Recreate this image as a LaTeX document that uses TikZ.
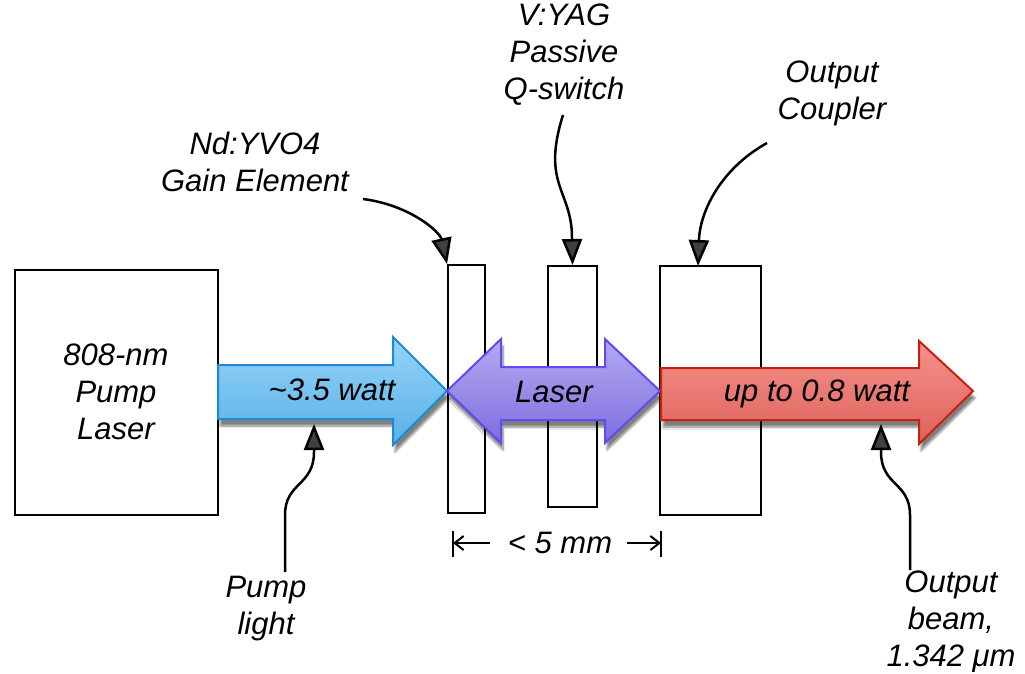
\documentclass[tikz,border=0pt]{standalone}
\usepackage{fontspec}
\setmainfont{Liberation Sans}
\usetikzlibrary{arrows.meta,shadows.blur}
\definecolor{bluetop}{RGB}{150,212,247}
\definecolor{bluebot}{RGB}{88,176,232}
\definecolor{blueline}{RGB}{26,139,212}
\definecolor{purtop}{RGB}{180,170,243}
\definecolor{purbot}{RGB}{126,110,220}
\definecolor{purline}{RGB}{92,76,245}
\definecolor{redtop}{RGB}{246,146,140}
\definecolor{redbot}{RGB}{220,98,90}
\definecolor{redline}{RGB}{200,32,15}
\begin{document}
\begin{tikzpicture}[x=1pt,y=-1pt,
  lab/.style={font=\fontsize{31}{37}\selectfont\itshape, inner sep=0pt, align=center},
  box/.style={draw, line width=2pt, fill=white, inner sep=0pt},
  call/.style={line width=2.5pt, -{Triangle[length=26pt,width=20pt]}},
  beam/.style={line width=2pt, line join=miter,
    blur shadow={shadow xshift=2pt, shadow yshift=-7pt, shadow blur steps=8, shadow opacity=50}},
  dimarr/.style={line width=2pt, -{Straight Barb[length=9pt,width=14pt]}},
]
\useasboundingbox (0,0) rectangle (1025,674);

% boxes
\node[box, minimum width=203pt, minimum height=245pt] (pump) at (116.5,392.5) {};
\node[lab] (pumptxt) at (116,392) {808-nm\\Pump\\Laser};
\node[box, minimum width=37pt, minimum height=248pt] (gain) at (466.5,389) {};
\node[box, minimum width=49pt, minimum height=241pt] (qs) at (572.5,386.5) {};
\node[box, minimum width=101pt, minimum height=249pt] (oc) at (710.5,390.5) {};

% beams
\path[beam, draw=blueline, top color=bluetop, bottom color=bluebot]
  (218,365) -- (393,365) -- (393,337) -- (447,391) -- (393,445) -- (393,419) -- (218,419) -- cycle;
\path[beam, draw=purline, top color=purtop, bottom color=purbot]
  (447,391) -- (501,339) -- (501,367) -- (605,367) -- (605,339) -- (660,391)
  -- (605,443) -- (605,420) -- (501,420) -- (501,443) -- cycle;
\path[beam, draw=redline, top color=redtop, bottom color=redbot]
  (661,368) -- (919,368) -- (919,341) -- (973,391) -- (919,444) -- (919,420) -- (661,420) -- cycle;

\node[lab, anchor=base] (pw) at (332,400) {\textasciitilde 3.5 watt};
\node[lab, anchor=base] (lw) at (554,402) {Laser};
\node[lab, anchor=base] (ow) at (817,401) {up to 0.8 watt};

% labels
\node[lab] (gainlab) at (255,162) {Nd:YVO4\\Gain Element};
\node[lab] (qslab) at (564,55) {V:YAG\\Passive\\Q-switch};
\node[lab] (oclab) at (832,93) {Output\\Coupler};
\node[lab] (pllab) at (266,609) {Pump\\light};
\node[lab] (oblab) at (951,622) {Output\\beam,\\1.342 μm};

% callouts
\coordinate (gs) at (363,199);
\draw[call] (gs) .. controls (410,205) and (440,232) .. (gain.north west);
\coordinate (qss) at (563,115);
\draw[call] (qss) .. controls (541,185) and (572,190) .. (572,238) -- (qs.north);
\coordinate (ocs) at (767,143);
\coordinate (oct) at (698,266);
\draw[call] (ocs) .. controls (722,168) and (700,210) .. (oct);
\coordinate (pls) at (285,572);
\coordinate (plt) at (314,424);
\draw[call] (pls) -- (285,515) .. controls (285,482) and (314,486) .. (314,452) -- (plt);
\coordinate (obs) at (910,570);
\coordinate (obt) at (881,424);
\draw[call] (obs) -- (910,515) .. controls (910,482) and (881,486) .. (881,452) -- (obt);

% dimension
\coordinate (dl) at (453,543);
\coordinate (dr) at (661,543);
\draw[line width=2pt] (453,531) -- (453,557);
\draw[line width=2pt] (661,531) -- (661,557);
\draw[dimarr] (490,543) -- (dl);
\draw[dimarr] (627,543) -- (dr);
\node[lab, anchor=base] (dim) at (560,553) {< 5 mm};
\end{tikzpicture}
\end{document}
